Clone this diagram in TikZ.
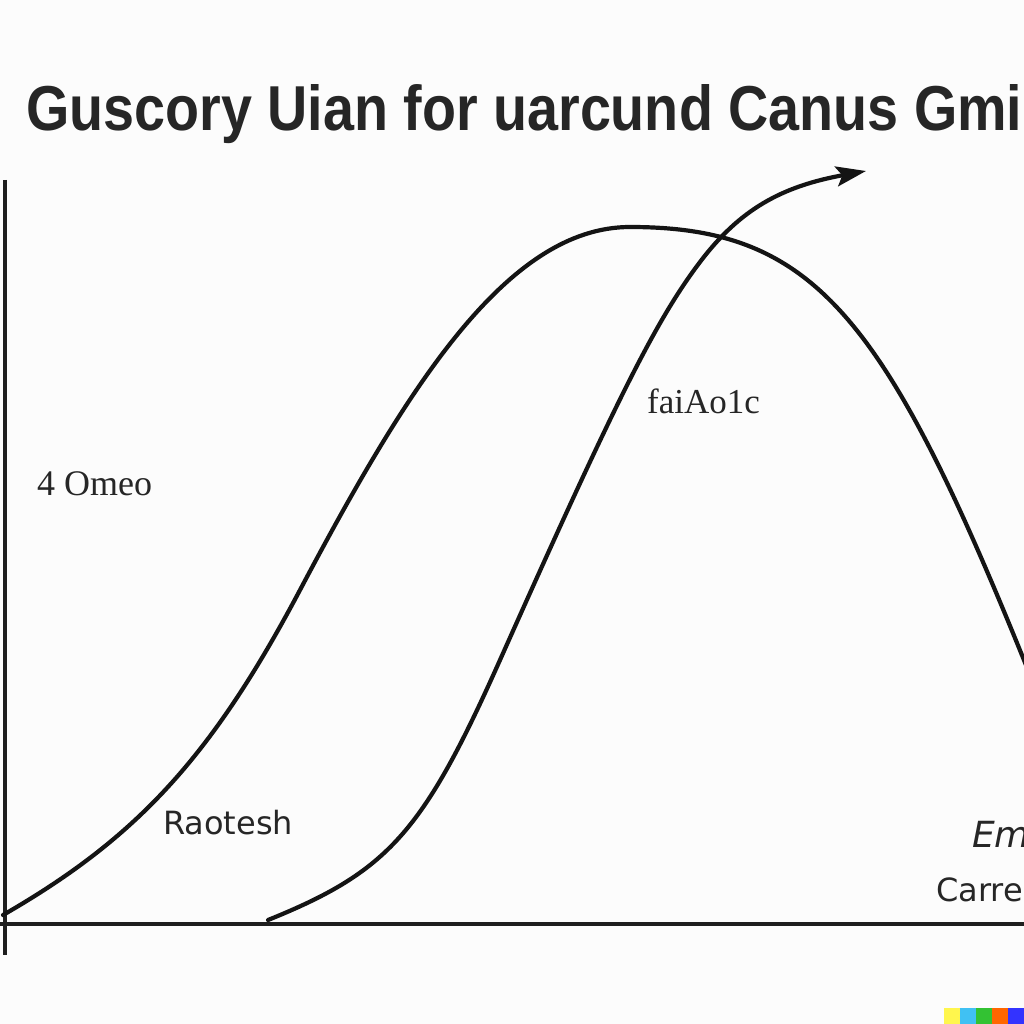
\documentclass[tikz,border=0pt]{standalone}
\usepackage{fontspec}
\setmainfont{Liberation Sans}
\newfontfamily\serifl{Liberation Serif}
\newfontfamily\sansd{DejaVu Sans}
\usetikzlibrary{arrows.meta}
\begin{document}
\begin{tikzpicture}[x=1pt,y=-1pt,
  curve/.style={line width=4.2pt,black!92,line cap=round,line join=round},
  axis/.style={line width=3.4pt,black!88},
  lbl/.style={inner sep=0pt,text=black!85}]
\fill[white!98!gray] (0,0) rectangle (1024,1024);
\useasboundingbox (0,0) rectangle (1024,1024);
\begin{scope}
\clip (0,0) rectangle (1024,1024);
% title
\node[lbl,anchor=base west] (title) at (26,131)
  {\resizebox{996pt}{46pt}{\bfseries Guscory Uian for uarcund Canus Gmi}};
% axes
\coordinate (ytop) at (5,180);
\coordinate (ybot) at (5,955);
\coordinate (xl) at (0,924);
\coordinate (xr) at (1024,924);
\draw[axis] (ytop) -- (ybot);
\draw[axis] (xl) -- (xr);
% curve 1 (bell)
\coordinate (a0) at (3,915);
\coordinate (a1) at (300,590);
\coordinate (a2) at (630,227);
\coordinate (a3) at (1036,690);
\draw[curve] (a0) .. controls (137.5,837.7) and (211.9,756.4) .. (a1)
  .. controls (405.5,390.7) and (506,227) .. (a2)
  .. controls (817.9,227) and (887.9,319.6) .. (a3);
% curve 2 (arrow)
\coordinate (b0) at (268,920);
\coordinate (b1) at (500,660);
\coordinate (b2) at (700,262);
\coordinate (b3) at (866,171);
\draw[curve,-{Stealth[length=30pt,width=20pt,inset=6pt]}]
  (b0) .. controls (388.3,871.4) and (423.1,832.4) .. (b1)
  .. controls (616.2,399.4) and (656.2,319.8) .. (b2)
  .. controls (739.8,209.5) and (781.3,186.4) .. (b3);
% labels
\node[lbl,anchor=west] (l1) at (37,484) {\serifl\fontsize{36pt}{36pt}\selectfont 4 Omeo};
\node[lbl,anchor=west] (l2) at (647,401) {\serifl\fontsize{35pt}{35pt}\selectfont faiAo1c};
\node[lbl,anchor=west] (l3) at (163,823) {\sansd\fontsize{32pt}{32pt}\selectfont Raotesh};
\node[lbl,anchor=west] (l4) at (972,834) {\sansd\fontsize{36pt}{36pt}\selectfont\itshape Em};
\node[lbl,anchor=west] (l5) at (936,890) {\sansd\fontsize{32pt}{32pt}\selectfont Carre};
% watermark
\fill[yellow!70!white] (944,1008) rectangle (960,1024);
\fill[cyan!75!white] (960,1008) rectangle (976,1024);
\fill[green!70!black!80!white] (976,1008) rectangle (992,1024);
\fill[orange!80!red] (992,1008) rectangle (1008,1024);
\fill[blue!80!white] (1008,1008) rectangle (1024,1024);
\end{scope}
\end{tikzpicture}
\end{document}
